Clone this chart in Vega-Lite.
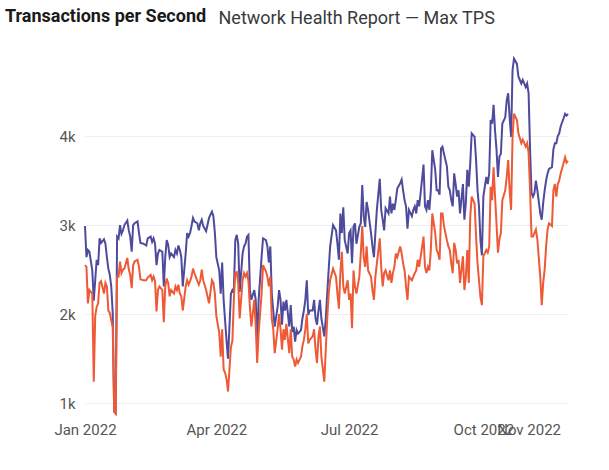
{
  "$schema": "https://vega.github.io/schema/vega-lite/v6.json",
  "width": 483,
  "height": 365,
  "padding": {"left": 5, "top": 8, "right": 10, "bottom": 5},
  "background": "white",
  "title": {
    "text": "Transactions per Second",
    "anchor": "start",
    "frame": "group",
    "dx": -80,
    "offset": -17,
    "font": "Roboto",
    "fontSize": 18,
    "fontWeight": "bold",
    "color": "#1a1a1a"
  },
  "data": {
    "values": [
      {"date": "2022-01-01", "high": 2990, "low": 2550},
      {"date": "2022-01-02", "high": 2640, "low": 2530},
      {"date": "2022-01-03", "high": 2720, "low": 2120},
      {"date": "2022-01-04", "high": 2700, "low": 2270},
      {"date": "2022-01-06", "high": 2490, "low": 2230},
      {"date": "2022-01-07", "high": 2150, "low": 1240},
      {"date": "2022-01-08", "high": 2380, "low": 1980},
      {"date": "2022-01-09", "high": 2610, "low": 2080},
      {"date": "2022-01-10", "high": 2550, "low": 2120},
      {"date": "2022-01-11", "high": 2850, "low": 2350},
      {"date": "2022-01-12", "high": 2800, "low": 2370},
      {"date": "2022-01-14", "high": 2840, "low": 2230},
      {"date": "2022-01-15", "high": 2790, "low": 2350},
      {"date": "2022-01-16", "high": 2640, "low": 2310},
      {"date": "2022-01-17", "high": 2510, "low": 2040},
      {"date": "2022-01-18", "high": 2440, "low": 2010},
      {"date": "2022-01-19", "high": 2310, "low": 1930},
      {"date": "2022-01-20", "high": 2010, "low": 1850},
      {"date": "2022-01-21", "high": 910, "low": 900},
      {"date": "2022-01-22", "high": 890, "low": 880},
      {"date": "2022-01-23", "high": 2870, "low": 2420},
      {"date": "2022-01-24", "high": 2850, "low": 2420},
      {"date": "2022-01-25", "high": 3000, "low": 2590},
      {"date": "2022-01-26", "high": 2900, "low": 2460},
      {"date": "2022-01-27", "high": 2940, "low": 2500},
      {"date": "2022-01-28", "high": 3000, "low": 2510},
      {"date": "2022-01-30", "high": 3050, "low": 2630},
      {"date": "2022-01-31", "high": 2940, "low": 2500},
      {"date": "2022-02-01", "high": 2870, "low": 2440},
      {"date": "2022-02-02", "high": 2700, "low": 2290},
      {"date": "2022-02-03", "high": 3000, "low": 2550},
      {"date": "2022-02-04", "high": 3020, "low": 2590},
      {"date": "2022-02-06", "high": 3040, "low": 2610},
      {"date": "2022-02-07", "high": 2910, "low": 2530},
      {"date": "2022-02-08", "high": 2800, "low": 2390},
      {"date": "2022-02-10", "high": 2790, "low": 2380},
      {"date": "2022-02-12", "high": 2770, "low": 2380},
      {"date": "2022-02-13", "high": 2850, "low": 2410},
      {"date": "2022-02-15", "high": 2870, "low": 2440},
      {"date": "2022-02-16", "high": 2810, "low": 2380},
      {"date": "2022-02-17", "high": 2850, "low": 2420},
      {"date": "2022-02-18", "high": 2790, "low": 2370},
      {"date": "2022-02-19", "high": 2550, "low": 2030},
      {"date": "2022-02-20", "high": 2680, "low": 2270},
      {"date": "2022-02-21", "high": 2720, "low": 2310},
      {"date": "2022-02-23", "high": 2700, "low": 2270},
      {"date": "2022-02-24", "high": 2310, "low": 1910},
      {"date": "2022-02-25", "high": 2640, "low": 2310},
      {"date": "2022-02-26", "high": 2830, "low": 2400},
      {"date": "2022-02-27", "high": 2780, "low": 2350},
      {"date": "2022-02-28", "high": 2640, "low": 2200},
      {"date": "2022-03-01", "high": 2680, "low": 2270},
      {"date": "2022-03-03", "high": 2640, "low": 2230},
      {"date": "2022-03-04", "high": 2720, "low": 2310},
      {"date": "2022-03-05", "high": 2680, "low": 2270},
      {"date": "2022-03-06", "high": 2770, "low": 2330},
      {"date": "2022-03-07", "high": 2720, "low": 2230},
      {"date": "2022-03-08", "high": 2640, "low": 2200},
      {"date": "2022-03-09", "high": 2310, "low": 2040},
      {"date": "2022-03-11", "high": 2680, "low": 2310},
      {"date": "2022-03-12", "high": 2910, "low": 2380},
      {"date": "2022-03-13", "high": 2870, "low": 2330},
      {"date": "2022-03-14", "high": 2910, "low": 2370},
      {"date": "2022-03-15", "high": 2990, "low": 2420},
      {"date": "2022-03-16", "high": 3080, "low": 2510},
      {"date": "2022-03-17", "high": 3040, "low": 2460},
      {"date": "2022-03-19", "high": 3020, "low": 2370},
      {"date": "2022-03-20", "high": 2940, "low": 2330},
      {"date": "2022-03-21", "high": 3020, "low": 2380},
      {"date": "2022-03-22", "high": 3060, "low": 2500},
      {"date": "2022-03-23", "high": 2990, "low": 2380},
      {"date": "2022-03-25", "high": 2930, "low": 2270},
      {"date": "2022-03-27", "high": 3080, "low": 2120},
      {"date": "2022-03-29", "high": 3150, "low": 2380},
      {"date": "2022-03-30", "high": 3100, "low": 2350},
      {"date": "2022-03-31", "high": 2910, "low": 2230},
      {"date": "2022-04-01", "high": 2640, "low": 1980},
      {"date": "2022-04-03", "high": 2490, "low": 1790},
      {"date": "2022-04-04", "high": 2230, "low": 1520},
      {"date": "2022-04-05", "high": 2580, "low": 1830},
      {"date": "2022-04-06", "high": 2160, "low": 1380},
      {"date": "2022-04-07", "high": 1930, "low": 1340},
      {"date": "2022-04-08", "high": 1700, "low": 1270},
      {"date": "2022-04-09", "high": 1500, "low": 1130},
      {"date": "2022-04-11", "high": 2230, "low": 1630},
      {"date": "2022-04-12", "high": 2270, "low": 1700},
      {"date": "2022-04-13", "high": 2250, "low": 2160},
      {"date": "2022-04-14", "high": 2830, "low": 2460},
      {"date": "2022-04-15", "high": 2890, "low": 2470},
      {"date": "2022-04-16", "high": 2790, "low": 2350},
      {"date": "2022-04-17", "high": 2250, "low": 1950},
      {"date": "2022-04-19", "high": 2680, "low": 2380},
      {"date": "2022-04-20", "high": 2760, "low": 2460},
      {"date": "2022-04-21", "high": 2790, "low": 2420},
      {"date": "2022-04-22", "high": 2870, "low": 2460},
      {"date": "2022-04-23", "high": 2890, "low": 2370},
      {"date": "2022-04-24", "high": 2270, "low": 2080},
      {"date": "2022-04-25", "high": 2160, "low": 1860},
      {"date": "2022-04-27", "high": 2270, "low": 2160},
      {"date": "2022-04-28", "high": 2160, "low": 1860},
      {"date": "2022-04-29", "high": 1670, "low": 1450},
      {"date": "2022-04-30", "high": 2160, "low": 1790},
      {"date": "2022-05-02", "high": 2640, "low": 2230},
      {"date": "2022-05-03", "high": 2850, "low": 2550},
      {"date": "2022-05-05", "high": 2830, "low": 2480},
      {"date": "2022-05-06", "high": 2760, "low": 2420},
      {"date": "2022-05-07", "high": 2580, "low": 2310},
      {"date": "2022-05-08", "high": 2760, "low": 2420},
      {"date": "2022-05-09", "high": 2230, "low": 1950},
      {"date": "2022-05-10", "high": 2040, "low": 1830},
      {"date": "2022-05-11", "high": 1860, "low": 1560},
      {"date": "2022-05-13", "high": 2080, "low": 1830},
      {"date": "2022-05-14", "high": 2270, "low": 2000},
      {"date": "2022-05-15", "high": 2160, "low": 1830},
      {"date": "2022-05-16", "high": 1880, "low": 1600},
      {"date": "2022-05-17", "high": 2140, "low": 1830},
      {"date": "2022-05-18", "high": 2040, "low": 1710},
      {"date": "2022-05-19", "high": 2160, "low": 1890},
      {"date": "2022-05-21", "high": 1860, "low": 1560},
      {"date": "2022-05-22", "high": 2100, "low": 1830},
      {"date": "2022-05-23", "high": 1800, "low": 1520},
      {"date": "2022-05-24", "high": 1860, "low": 1490},
      {"date": "2022-05-25", "high": 1690, "low": 1410},
      {"date": "2022-05-26", "high": 1820, "low": 1490},
      {"date": "2022-05-27", "high": 1780, "low": 1450},
      {"date": "2022-05-29", "high": 1820, "low": 1520},
      {"date": "2022-05-30", "high": 1950, "low": 1640},
      {"date": "2022-05-31", "high": 2040, "low": 1710},
      {"date": "2022-06-01", "high": 2160, "low": 1830},
      {"date": "2022-06-02", "high": 2380, "low": 2000},
      {"date": "2022-06-03", "high": 1990, "low": 1670},
      {"date": "2022-06-04", "high": 2040, "low": 1710},
      {"date": "2022-06-06", "high": 2040, "low": 1750},
      {"date": "2022-06-07", "high": 2160, "low": 1830},
      {"date": "2022-06-08", "high": 1950, "low": 1600},
      {"date": "2022-06-09", "high": 1880, "low": 1450},
      {"date": "2022-06-10", "high": 2040, "low": 1750},
      {"date": "2022-06-11", "high": 2160, "low": 1860},
      {"date": "2022-06-12", "high": 1950, "low": 1520},
      {"date": "2022-06-14", "high": 1750, "low": 1240},
      {"date": "2022-06-15", "high": 1950, "low": 1600},
      {"date": "2022-06-16", "high": 2230, "low": 1950},
      {"date": "2022-06-17", "high": 2500, "low": 2230},
      {"date": "2022-06-18", "high": 2760, "low": 2380},
      {"date": "2022-06-20", "high": 3000, "low": 2510},
      {"date": "2022-06-22", "high": 2940, "low": 2420},
      {"date": "2022-06-23", "high": 2790, "low": 2230},
      {"date": "2022-06-24", "high": 2610, "low": 2060},
      {"date": "2022-06-25", "high": 3130, "low": 2460},
      {"date": "2022-06-26", "high": 2910, "low": 2700},
      {"date": "2022-06-27", "high": 3200, "low": 2310},
      {"date": "2022-06-28", "high": 2830, "low": 2230},
      {"date": "2022-06-30", "high": 2680, "low": 2380},
      {"date": "2022-07-01", "high": 2910, "low": 2160},
      {"date": "2022-07-02", "high": 2940, "low": 2230},
      {"date": "2022-07-03", "high": 2570, "low": 1840},
      {"date": "2022-07-04", "high": 2980, "low": 2490},
      {"date": "2022-07-05", "high": 3020, "low": 2310},
      {"date": "2022-07-06", "high": 2790, "low": 2230},
      {"date": "2022-07-08", "high": 2980, "low": 2420},
      {"date": "2022-07-09", "high": 3020, "low": 2680},
      {"date": "2022-07-10", "high": 3450, "low": 2990},
      {"date": "2022-07-11", "high": 3100, "low": 2640},
      {"date": "2022-07-12", "high": 2980, "low": 2530},
      {"date": "2022-07-13", "high": 3260, "low": 2760},
      {"date": "2022-07-14", "high": 3170, "low": 2490},
      {"date": "2022-07-16", "high": 2910, "low": 2420},
      {"date": "2022-07-17", "high": 2760, "low": 2270},
      {"date": "2022-07-18", "high": 2640, "low": 2160},
      {"date": "2022-07-19", "high": 2910, "low": 2420},
      {"date": "2022-07-20", "high": 3170, "low": 2570},
      {"date": "2022-07-22", "high": 3520, "low": 2850},
      {"date": "2022-07-23", "high": 3170, "low": 2530},
      {"date": "2022-07-24", "high": 3060, "low": 2310},
      {"date": "2022-07-25", "high": 2940, "low": 2460},
      {"date": "2022-07-26", "high": 3190, "low": 2490},
      {"date": "2022-07-28", "high": 3130, "low": 2380},
      {"date": "2022-07-29", "high": 3320, "low": 2490},
      {"date": "2022-07-30", "high": 3130, "low": 2350},
      {"date": "2022-07-31", "high": 3240, "low": 2460},
      {"date": "2022-08-01", "high": 3170, "low": 2530},
      {"date": "2022-08-02", "high": 3280, "low": 2680},
      {"date": "2022-08-03", "high": 3410, "low": 2640},
      {"date": "2022-08-05", "high": 3470, "low": 2760},
      {"date": "2022-08-06", "high": 3510, "low": 2680},
      {"date": "2022-08-07", "high": 3390, "low": 2570},
      {"date": "2022-08-08", "high": 3280, "low": 2490},
      {"date": "2022-08-09", "high": 3210, "low": 2310},
      {"date": "2022-08-10", "high": 2960, "low": 2160},
      {"date": "2022-08-11", "high": 3170, "low": 2420},
      {"date": "2022-08-13", "high": 3100, "low": 2380},
      {"date": "2022-08-14", "high": 3170, "low": 2420},
      {"date": "2022-08-15", "high": 3210, "low": 2460},
      {"date": "2022-08-16", "high": 3130, "low": 2490},
      {"date": "2022-08-17", "high": 3280, "low": 2610},
      {"date": "2022-08-18", "high": 3210, "low": 2530},
      {"date": "2022-08-19", "high": 3360, "low": 2640},
      {"date": "2022-08-21", "high": 3680, "low": 2870},
      {"date": "2022-08-22", "high": 3210, "low": 2530},
      {"date": "2022-08-23", "high": 3170, "low": 2460},
      {"date": "2022-08-24", "high": 3280, "low": 2530},
      {"date": "2022-08-25", "high": 3170, "low": 2490},
      {"date": "2022-08-26", "high": 3390, "low": 2720},
      {"date": "2022-08-27", "high": 3840, "low": 3130},
      {"date": "2022-08-29", "high": 3620, "low": 2910},
      {"date": "2022-08-30", "high": 3390, "low": 2720},
      {"date": "2022-08-31", "high": 3390, "low": 2680},
      {"date": "2022-09-01", "high": 3340, "low": 2610},
      {"date": "2022-09-02", "high": 3860, "low": 3130},
      {"date": "2022-09-03", "high": 3880, "low": 3130},
      {"date": "2022-09-04", "high": 3800, "low": 2990},
      {"date": "2022-09-06", "high": 3660, "low": 2830},
      {"date": "2022-09-07", "high": 3430, "low": 2760},
      {"date": "2022-09-08", "high": 3390, "low": 2720},
      {"date": "2022-09-09", "high": 3280, "low": 2570},
      {"date": "2022-09-10", "high": 3210, "low": 2460},
      {"date": "2022-09-11", "high": 3580, "low": 2800},
      {"date": "2022-09-12", "high": 3460, "low": 2720},
      {"date": "2022-09-13", "high": 3320, "low": 2570},
      {"date": "2022-09-14", "high": 3390, "low": 2610},
      {"date": "2022-09-15", "high": 3130, "low": 2350},
      {"date": "2022-09-17", "high": 3460, "low": 2650},
      {"date": "2022-09-18", "high": 3060, "low": 2270},
      {"date": "2022-09-19", "high": 3250, "low": 2420},
      {"date": "2022-09-20", "high": 3620, "low": 2720},
      {"date": "2022-09-21", "high": 3430, "low": 2350},
      {"date": "2022-09-22", "high": 3690, "low": 3090},
      {"date": "2022-09-23", "high": 4030, "low": 3320},
      {"date": "2022-09-25", "high": 3990, "low": 3240},
      {"date": "2022-09-26", "high": 3730, "low": 2870},
      {"date": "2022-09-27", "high": 3390, "low": 2570},
      {"date": "2022-09-28", "high": 3210, "low": 2380},
      {"date": "2022-09-29", "high": 2830, "low": 2190},
      {"date": "2022-09-30", "high": 2660, "low": 2100},
      {"date": "2022-10-01", "high": 3320, "low": 2650},
      {"date": "2022-10-03", "high": 3540, "low": 2720},
      {"date": "2022-10-04", "high": 3460, "low": 2690},
      {"date": "2022-10-05", "high": 3580, "low": 2760},
      {"date": "2022-10-06", "high": 4180, "low": 3430},
      {"date": "2022-10-07", "high": 4140, "low": 3280},
      {"date": "2022-10-08", "high": 4350, "low": 3650},
      {"date": "2022-10-09", "high": 4060, "low": 3320},
      {"date": "2022-10-10", "high": 3850, "low": 3020},
      {"date": "2022-10-11", "high": 3540, "low": 2690},
      {"date": "2022-10-12", "high": 3770, "low": 2840},
      {"date": "2022-10-13", "high": 3800, "low": 2910},
      {"date": "2022-10-14", "high": 4140, "low": 3280},
      {"date": "2022-10-16", "high": 4210, "low": 3390},
      {"date": "2022-10-17", "high": 4400, "low": 3540},
      {"date": "2022-10-18", "high": 4480, "low": 3730},
      {"date": "2022-10-19", "high": 4210, "low": 3390},
      {"date": "2022-10-20", "high": 3990, "low": 3170},
      {"date": "2022-10-21", "high": 4740, "low": 3990},
      {"date": "2022-10-22", "high": 4870, "low": 4250},
      {"date": "2022-10-24", "high": 4810, "low": 4180},
      {"date": "2022-10-25", "high": 4670, "low": 4030},
      {"date": "2022-10-27", "high": 4590, "low": 3920},
      {"date": "2022-10-28", "high": 4630, "low": 3960},
      {"date": "2022-10-30", "high": 4550, "low": 3880},
      {"date": "2022-10-31", "high": 4590, "low": 3920},
      {"date": "2022-11-01", "high": 4480, "low": 3810},
      {"date": "2022-11-02", "high": 3850, "low": 3390},
      {"date": "2022-11-03", "high": 3360, "low": 2870},
      {"date": "2022-11-04", "high": 3320, "low": 2870},
      {"date": "2022-11-05", "high": 3360, "low": 2910},
      {"date": "2022-11-06", "high": 3500, "low": 2950},
      {"date": "2022-11-07", "high": 3390, "low": 2840},
      {"date": "2022-11-09", "high": 3130, "low": 2420},
      {"date": "2022-11-10", "high": 3060, "low": 2100},
      {"date": "2022-11-11", "high": 3250, "low": 2350},
      {"date": "2022-11-12", "high": 3390, "low": 2500},
      {"date": "2022-11-13", "high": 3500, "low": 2760},
      {"date": "2022-11-14", "high": 3580, "low": 2950},
      {"date": "2022-11-15", "high": 3630, "low": 3020},
      {"date": "2022-11-17", "high": 3650, "low": 2990},
      {"date": "2022-11-18", "high": 3850, "low": 3390},
      {"date": "2022-11-19", "high": 3920, "low": 3460},
      {"date": "2022-11-20", "high": 3920, "low": 3320},
      {"date": "2022-11-21", "high": 4000, "low": 3460},
      {"date": "2022-11-22", "high": 4030, "low": 3500},
      {"date": "2022-11-23", "high": 4110, "low": 3580},
      {"date": "2022-11-25", "high": 4200, "low": 3700},
      {"date": "2022-11-26", "high": 4250, "low": 3760},
      {"date": "2022-11-27", "high": 4230, "low": 3700},
      {"date": "2022-11-28", "high": 4250, "low": 3720}
    ]
  },
  "transform": [{"fold": ["high", "low"], "as": ["series", "tps"]}],
  "mark": {"type": "line", "strokeWidth": 2, "interpolate": "linear"},
  "encoding": {
    "x": {
      "field": "date",
      "type": "temporal",
      "scale": {
        "type": "utc",
        "domain": [
          {"year": 2022, "month": 1, "date": 1, "utc": true},
          {"year": 2022, "month": 11, "date": 28, "utc": true}
        ],
        "nice": false
      },
      "axis": {
        "title": null,
        "values": [
          {"year": 2022, "month": 1, "date": 1, "utc": true},
          {"year": 2022, "month": 4, "date": 1, "utc": true},
          {"year": 2022, "month": 7, "date": 1, "utc": true},
          {"year": 2022, "month": 10, "date": 1, "utc": true},
          {"year": 2022, "month": 11, "date": 1, "utc": true}
        ],
        "labelExpr": "utcFormat(datum.value, '%b %Y')",
        "labelOverlap": false,
        "labelFlush": false,
        "grid": false,
        "domain": false,
        "ticks": false,
        "labelPadding": 10,
        "labelFont": "Roboto",
        "labelFontSize": 15,
        "labelColor": "#555555"
      }
    },
    "y": {
      "field": "tps",
      "type": "quantitative",
      "scale": {"domain": [900, 5000], "nice": false, "zero": false},
      "axis": {
        "title": "Network Health Report — Max TPS",
        "titleAngle": 0,
        "titleX": 133,
        "titleY": -29,
        "titleAlign": "left",
        "titleBaseline": "middle",
        "titleFont": "Roboto",
        "titleFontSize": 18,
        "titleFontWeight": "normal",
        "titleColor": "#3a3a3a",
        "values": [1000, 2000, 3000, 4000],
        "format": "~s",
        "grid": true,
        "gridColor": "#eeeeee",
        "gridWidth": 1,
        "domain": false,
        "ticks": false,
        "labelPadding": 10,
        "labelFont": "Roboto",
        "labelFontSize": 15,
        "labelColor": "#555555"
      }
    },
    "color": {
      "field": "series",
      "type": "nominal",
      "scale": {"domain": ["high", "low"], "range": ["#4e4b9c", "#ee5a36"]},
      "legend": null
    }
  },
  "config": {
    "view": {"stroke": null}
  }
}
